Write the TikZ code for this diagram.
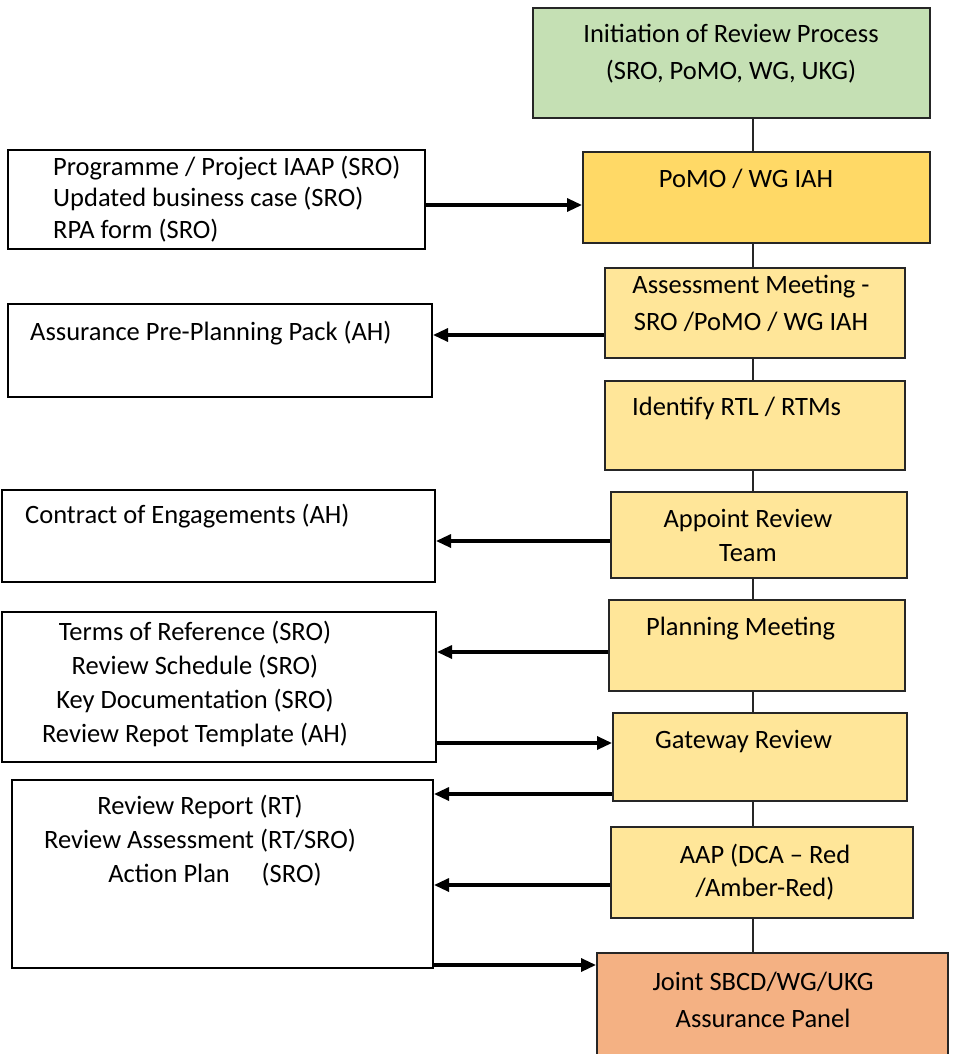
\documentclass[tikz,border=0pt]{standalone}
\usepackage{fontspec}
\setmainfont{Carlito}
\usepackage{tikz}
\usetikzlibrary{arrows.meta, positioning, calc}
\definecolor{startgreen}{HTML}{C5E0B4}
\definecolor{iahyellow}{HTML}{FFD966}
\definecolor{stepyellow}{HTML}{FFE699}
\definecolor{panelorange}{HTML}{F4B183}
\definecolor{boxline}{HTML}{262626}

\begin{document}
\begin{tikzpicture}[
    x=1pt, y=-1pt,
    stepbox/.style={
        draw=boxline,
        line width=2pt,
        inner sep=0pt
    },
    docbox/.style={
        draw=black,
        line width=2pt,
        fill=white,
        inner sep=0pt
    },
    boxtext/.style={
        inner sep=0pt,
        font=\fontsize{26.5}{37}\selectfont
    },
    doctext/.style={
        inner sep=0pt,
        font=\fontsize{26.5}{33}\selectfont
    },
    link/.style={
        draw=boxline,
        line width=1.3pt
    },
    arrow/.style={
        -{Triangle[length=15pt, width=13pt]},
        line width=3.2pt,
        color=black
    }
]
\useasboundingbox (0,0) rectangle (966,1054);

% Process steps
\node[stepbox, fill=startgreen, minimum width=397pt, minimum height=110pt] (init) at (731.5,63) {};
\node[stepbox, fill=iahyellow, minimum width=347pt, minimum height=91pt] (pomo) at (756.5,197.5) {};
\node[stepbox, fill=stepyellow, minimum width=300pt, minimum height=90pt] (assess) at (755,313) {};
\node[stepbox, fill=stepyellow, minimum width=300pt, minimum height=89pt] (ident) at (755,425.5) {};
\node[stepbox, fill=stepyellow, minimum width=296pt, minimum height=86pt] (appoint) at (759,535) {};
\node[stepbox, fill=stepyellow, minimum width=296pt, minimum height=91pt] (planning) at (757,645.5) {};
\node[stepbox, fill=stepyellow, minimum width=294pt, minimum height=88pt] (gateway) at (760,757) {};
\node[stepbox, fill=stepyellow, minimum width=302pt, minimum height=91pt] (aap) at (762,872.5) {};
\node[stepbox, fill=panelorange, minimum width=351pt, minimum height=107pt] (joint) at (772.5,1006.5) {};

% (base anchor sits on the last line)
\node[boxtext, anchor=base, align=center] (initText) at (731,80) {
    Initiation of Review Process\\
    (SRO, PoMO, WG, UKG)
};
\node[boxtext, anchor=base] (pomoText) at (746,187) {PoMO / WG IAH};
\node[boxtext, anchor=base, align=center] (assessText) at (751,330) {
    Assessment Meeting -\\
    SRO /PoMO / WG IAH
};
\node[boxtext, anchor=base west] (identText) at (632,415) {Identify RTL / RTMs};
\node[boxtext, anchor=base, align=center, font=\fontsize{26.5}{34}\selectfont] (appointText) at (748,561) {
    Appoint Review\\
    Team
};
\node[boxtext, anchor=base west] (planningText) at (646,635) {Planning Meeting};
\node[boxtext, anchor=base west] (gatewayText) at (655,748) {Gateway Review};
\node[boxtext, anchor=base, align=center, font=\fontsize{26.5}{33}\selectfont] (aapText) at (765,896) {
    AAP (DCA -- Red\\
    /Amber-Red)
};
\node[boxtext, anchor=base, align=center] (jointText) at (763,1027) {
    Joint SBCD/WG/UKG\\
    Assurance Panel
};

% Documents
\node[docbox, minimum width=417pt, minimum height=99pt] (iaap) at (216.5,199.5) {};
\node[docbox, minimum width=424pt, minimum height=93pt] (pack) at (220,350.5) {};
\node[docbox, minimum width=433pt, minimum height=92pt] (contract) at (218.5,536) {};
\node[docbox, minimum width=434pt, minimum height=150pt] (docs) at (219,687) {};
\node[docbox, minimum width=421pt, minimum height=188pt] (report) at (222.5,874) {};

\node[doctext, anchor=base west, align=left, font=\fontsize{26.5}{31.5}\selectfont] (iaapText) at (53,238) {
    Programme / Project IAAP (SRO)\\
    Updated business case (SRO)\\
    RPA form (SRO)
};
\node[doctext, anchor=base west] (packText) at (30,340) {Assurance Pre-Planning Pack (AH)};
\node[doctext, anchor=base west] (contractText) at (25,523) {Contract of Engagements (AH)};
\node[doctext, anchor=base, align=center, font=\fontsize{26.5}{34}\selectfont] (docsText) at (195,742) {
    Terms of Reference (SRO)\\
    Review Schedule (SRO)\\
    Key Documentation (SRO)\\
    Review Repot Template (AH)
};
\node[doctext, anchor=base, align=center, font=\fontsize{26.5}{34}\selectfont] (reportText) at (200,882) {
    Review Report (RT)\\
    Review Assessment (RT/SRO)\\
    \hspace*{30pt}Action Plan\hspace{1.2em}(SRO)
};

% Spine
\coordinate (spine) at (753,0);
\draw[link] (init.south -| spine) -- (pomo.north -| spine);
\draw[link] (pomo.south -| spine) -- (assess.north -| spine);
\draw[link] (assess.south -| spine) -- (ident.north -| spine);
\draw[link] (ident.south -| spine) -- (appoint.north -| spine);
\draw[link] (appoint.south -| spine) -- (planning.north -| spine);
\draw[link] (planning.south -| spine) -- (gateway.north -| spine);
\draw[link] (gateway.south -| spine) -- (aap.north -| spine);
\draw[link] (aap.south -| spine) -- (joint.north -| spine);

% Arrows
\draw[arrow] ([yshift=-5.5pt]iaap.east) -- ([yshift=-5.5pt]iaap.east -| pomo.west);
\draw[arrow] ([yshift=-22pt]assess.west) -- ([yshift=-22pt]assess.west -| pack.east);
\draw[arrow] ([yshift=-6pt]appoint.west) -- ([yshift=-6pt]appoint.west -| contract.east);
\draw[arrow] ([yshift=-6.5pt]planning.west) -- ([yshift=-6.5pt]planning.west -| docs.east);
\draw[arrow] ([yshift=-56pt]docs.east) -- ([yshift=-56pt]docs.east -| gateway.west);
\draw[arrow] ([yshift=-37pt]gateway.west) -- ([yshift=-37pt]gateway.west -| report.east);
\draw[arrow] ([yshift=-12.5pt]aap.west) -- ([yshift=-12.5pt]aap.west -| report.east);
\draw[arrow] ([yshift=-91pt]report.east) -- ([yshift=-91pt]report.east -| joint.west);

\end{tikzpicture}
\end{document}
